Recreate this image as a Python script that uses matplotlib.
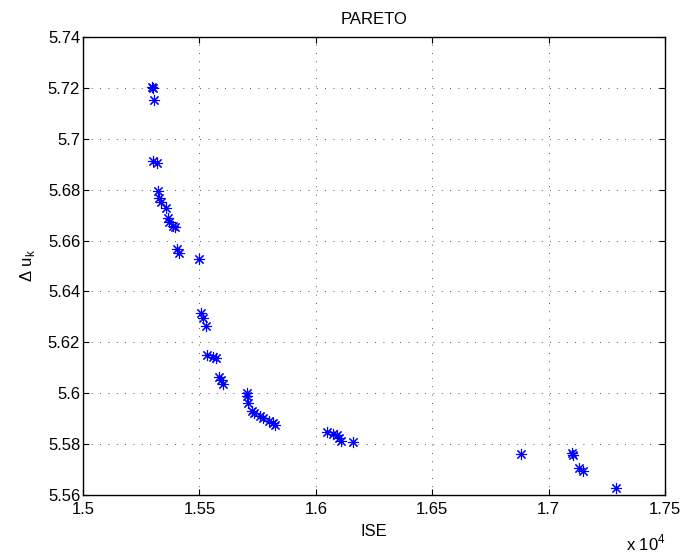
import matplotlib
matplotlib.use("Agg")
import matplotlib.pyplot as plt

plt.rcParams['font.family'] = ['Liberation Sans', 'DejaVu Sans']

ise = [15298, 15300, 15303, 15302, 15316, 15321, 15328, 15334, 15357, 15365,
       15371, 15388, 15395, 15402, 15414, 15500, 15506, 15514, 15528, 15534,
       15560, 15571, 15585, 15591, 15600, 15703, 15706, 15707, 15725, 15735,
       15760, 15772, 15800, 15815, 15825, 16047, 16075, 16092, 16101, 16107,
       16161, 16880, 17099, 17106, 17132, 17146, 17290]
du = [5.7205, 5.7198, 5.7152, 5.6913, 5.6905, 5.6795, 5.6768, 5.6753, 5.6727, 5.6687,
      5.6674, 5.6657, 5.6654, 5.6567, 5.6552, 5.6526, 5.6316, 5.6294, 5.6265, 5.6150,
      5.6143, 5.6137, 5.6065, 5.6052, 5.6036, 5.6002, 5.5989, 5.5960, 5.5931, 5.5921,
      5.5911, 5.5904, 5.5891, 5.5882, 5.5875, 5.5846, 5.5839, 5.5836, 5.5823, 5.5813,
      5.5809, 5.5762, 5.5765, 5.5756, 5.5706, 5.5694, 5.5628]

xticks = [15000, 15500, 16000, 16500, 17000, 17500]
xticklabels = ['1.5', '1.55', '1.6', '1.65', '1.7', '1.75']
yticks = [5.56, 5.58, 5.60, 5.62, 5.64, 5.66, 5.68, 5.70, 5.72, 5.74]
yticklabels = ['5.56', '5.58', '5.6', '5.62', '5.64', '5.66', '5.68', '5.7', '5.72', '5.74']

fig = plt.figure(figsize=(6.85, 5.52), dpi=100)
ax = fig.add_axes([83/685, 57/552, 582/685, 458/552])
ax.plot(ise, du, linestyle='none', marker=(8, 2, 0), markersize=8,
        markeredgewidth=0.8, color='#0000ff')

ax.set_xlim(15000, 17500)
ax.set_ylim(5.56, 5.74)
ax.set_xticks(xticks)
ax.set_xticklabels(xticklabels)
ax.set_yticks(yticks)
ax.set_yticklabels(yticklabels)
ax.tick_params(direction='in', top=True, right=True, labelsize=12, length=4)
ax.tick_params(axis='y', pad=2)
ax.tick_params(axis='x', pad=5)
ax.grid(True, linestyle=(0, (1, 9)), color='#222222', linewidth=0.6)
for s in ax.spines.values():
    s.set_linewidth(1.0)

ax.set_title('PARETO', fontsize=12, pad=9)
ax.set_xlabel('ISE', fontsize=12, labelpad=5)
ax.set_ylabel('Δ u$_\\mathregular{k}$', fontsize=12, labelpad=8)
fig.text(646/685, 1 - 543/552, 'x 10$^\\mathregular{4}$', fontsize=12, ha='center', va='center')

fig.savefig('out.png', dpi=100)
